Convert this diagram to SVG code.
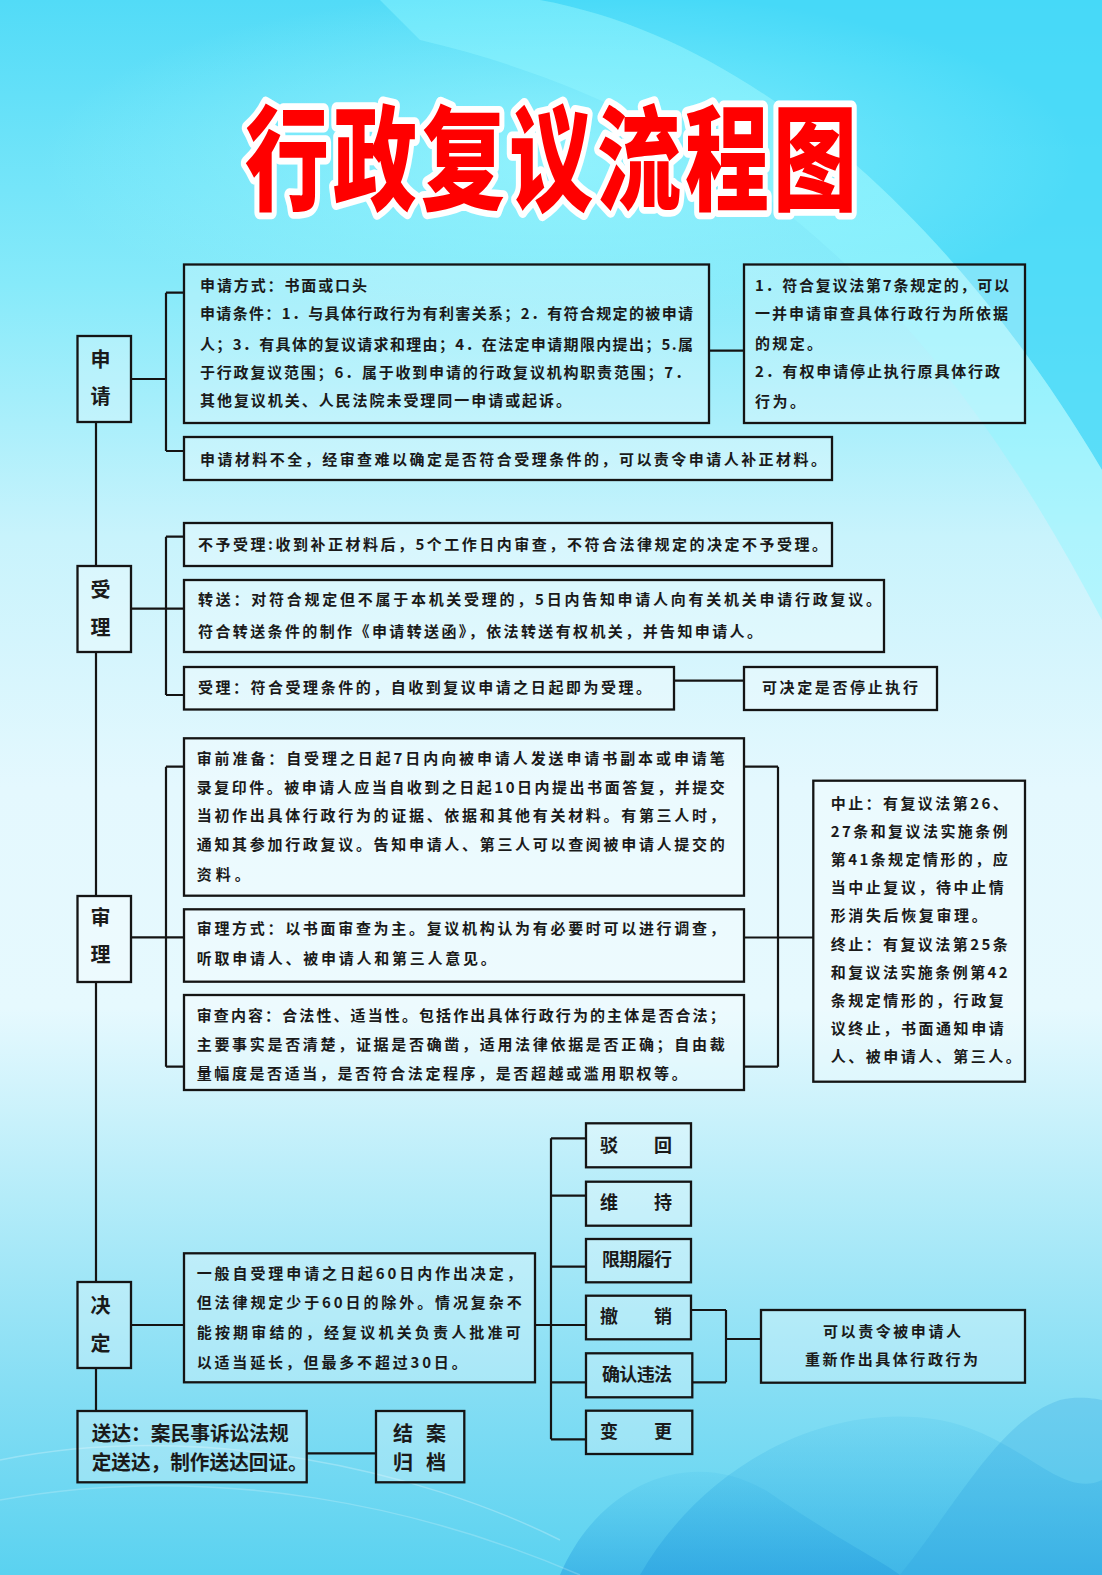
<svg xmlns="http://www.w3.org/2000/svg" width="1102" height="1575" viewBox="0 0 1102 1575">
<defs>
<linearGradient id="bg" x1="0" y1="0" x2="0" y2="1">
<stop offset="0" stop-color="#52dbf7"/>
<stop offset="0.18" stop-color="#86eafa"/>
<stop offset="0.34" stop-color="#c8f3fc"/>
<stop offset="0.5" stop-color="#e4f8fe"/>
<stop offset="0.64" stop-color="#e6f9fe"/>
<stop offset="0.76" stop-color="#b4ecf9"/>
<stop offset="0.88" stop-color="#86def4"/>
<stop offset="1" stop-color="#5ad2f0"/>
</linearGradient>
<radialGradient id="glow" cx="0.5" cy="0.5" r="0.5">
<stop offset="0" stop-color="#9ff8ff" stop-opacity="0.7"/>
<stop offset="1" stop-color="#9ff8ff" stop-opacity="0"/>
</radialGradient>
<linearGradient id="swirl" x1="0" y1="0" x2="0" y2="1">
<stop offset="0" stop-color="#3ab8e8" stop-opacity="0.15"/>
<stop offset="1" stop-color="#2aa0e0" stop-opacity="0.55"/>
</linearGradient>
<style>
.box{fill:#ffffff;fill-opacity:0.28;stroke:#141414;stroke-width:2.3}
.ln{stroke:#141414;stroke-width:2.2;fill:none}
.t{font-family:"Noto Sans CJK SC","Noto Sans",sans-serif;font-size:15px;font-weight:600;fill:#1a1a1a}
.lb{font-family:"Noto Sans CJK SC","Noto Sans",sans-serif;font-size:20px;font-weight:600;fill:#1a1a1a;text-anchor:middle}
.o{font-family:"Noto Sans CJK SC","Noto Sans",sans-serif;font-size:18px;font-weight:700;fill:#1a1a1a}
.big{font-family:"Noto Sans CJK SC","Noto Sans",sans-serif;font-size:20px;font-weight:700;fill:#1a1a1a}
.title{font-family:"Noto Sans CJK SC","Noto Sans",sans-serif;font-size:84px;font-weight:900;fill:#ff0000;stroke:#ffffff;stroke-width:10;stroke-linejoin:round;paint-order:stroke}
</style>
</defs>

<rect x="0" y="0" width="1102" height="1575" fill="url(#bg)"/>
<path d="M540,0 C760,40 960,230 1102,470 L1102,0 Z" fill="#44d8f8" opacity="0.8"/>
<path d="M540,0 C760,40 960,230 1102,470 L1102,620 C950,330 760,120 420,40 L380,0 Z" fill="#8ef6ff" opacity="0.45"/>
<ellipse cx="560" cy="160" rx="520" ry="170" fill="url(#glow)"/>
<path d="M560,1575 C600,1480 700,1440 780,1500 C840,1540 880,1560 900,1575 Z" fill="url(#swirl)"/>
<path d="M640,1575 C700,1470 820,1400 940,1420 C1020,1435 1060,1500 1102,1480 L1102,1575 Z" fill="url(#swirl)"/>
<path d="M900,1575 C960,1500 1000,1420 1060,1400 C1080,1395 1102,1400 1102,1400 L1102,1575 Z" fill="#2aa0e0" opacity="0.25"/>
<path d="M0,1460 C200,1420 420,1470 560,1540" stroke="#ffffff" stroke-opacity="0.25" stroke-width="1.5" fill="none"/>
<path d="M0,1500 C220,1460 430,1510 580,1575" stroke="#ffffff" stroke-opacity="0.2" stroke-width="1.5" fill="none"/>

<g id="title">
<text class="title" x="245" y="148.9" transform="scale(1,1.35)" textLength="612" lengthAdjust="spacing">行政复议流程图</text>
</g>

<g id="connectors">
<path class="ln" d="M96,422 V566 M96,652 V896 M96,982 V1282 M96,1368 V1411"/>
<path class="ln" d="M131,379 H166 M166,292.7 V451 M166,292.7 H184 M166,451 H184 M709,350.7 H744"/>
<path class="ln" d="M131,608.7 H184 M166,536.7 V695 M166,536.7 H184 M166,695 H184 M674,680.7 H744"/>
<path class="ln" d="M131,937.3 H184 M166,766.7 V1066.7 M166,766.7 H184 M166,1066.7 H184"/>
<path class="ln" d="M744,766.7 H778 M744,1066.7 H778 M778,766.7 V1066.7 M744,937.5 H813"/>
<path class="ln" d="M131,1325 H184 M535,1325 H586 M551,1138.3 V1439.3 M551,1138.3 H586 M551,1195.7 H586 M551,1266.7 H586 M551,1382.3 H586 M551,1439.3 H586"/>
<path class="ln" d="M691,1310 H726 M692,1382.3 H726 M726,1310 V1382.3 M726,1339 H761"/>
<path class="ln" d="M306.7,1453.3 H376"/>
</g>

<g id="stage-apply">
<rect class="box" x="77.5" y="336" width="53.5" height="86"/>
<text class="lb" x="100.5" y="367">申</text>
<text class="lb" x="100.5" y="404">请</text>
</g>

<g id="apply-main">
<rect class="box" x="184" y="264.5" width="525" height="158.5"/>
<text class="t" x="200" y="291" textLength="167" lengthAdjust="spacing">申请方式：书面或口头</text>
<text class="t" x="200" y="319.3" textLength="493" lengthAdjust="spacing">申请条件：1．与具体行政行为有利害关系；2．有符合规定的被申请</text>
<text class="t" x="200" y="349.6" textLength="493" lengthAdjust="spacing">人；3．有具体的复议请求和理由；4．在法定申请期限内提出；5.属</text>
<text class="t" x="200" y="377.6" textLength="490" lengthAdjust="spacing">于行政复议范围；6．属于收到申请的行政复议机构职责范围；7．</text>
<text class="t" x="200" y="406" textLength="371" lengthAdjust="spacing">其他复议机关、人民法院未受理同一申请或起诉。</text>
</g>

<g id="apply-right">
<rect class="box" x="744" y="264.5" width="281" height="158.5"/>
<text class="t" x="755" y="291" textLength="254" lengthAdjust="spacing">1．符合复议法第7条规定的，可以</text>
<text class="t" x="755" y="319.3" textLength="253" lengthAdjust="spacing">一并申请审查具体行政行为所依据</text>
<text class="t" x="755" y="348.6" textLength="67" lengthAdjust="spacing">的规定。</text>
<text class="t" x="755" y="377" textLength="245" lengthAdjust="spacing">2．有权申请停止执行原具体行政</text>
<text class="t" x="755" y="407" textLength="50" lengthAdjust="spacing">行为。</text>
</g>

<g id="apply-incomplete">
<rect class="box" x="184" y="437" width="648" height="43"/>
<text class="t" x="200" y="464.6" textLength="626" lengthAdjust="spacing">申请材料不全，经审查难以确定是否符合受理条件的，可以责令申请人补正材料。</text>
</g>

<g id="stage-accept">
<rect class="box" x="77.5" y="566" width="53.5" height="86"/>
<text class="lb" x="100.5" y="597">受</text>
<text class="lb" x="100.5" y="635">理</text>
</g>

<g id="accept-reject">
<rect class="box" x="184" y="523" width="648" height="43"/>
<text class="t" x="198" y="550.3" textLength="629" lengthAdjust="spacing">不予受理:收到补正材料后，5个工作日内审查，不符合法律规定的决定不予受理。</text>
</g>

<g id="accept-transfer">
<rect class="box" x="184" y="580" width="700" height="72"/>
<text class="t" x="198" y="605.3" textLength="683" lengthAdjust="spacing">转送：对符合规定但不属于本机关受理的，5日内告知申请人向有关机关申请行政复议。</text>
<text class="t" x="198" y="637" textLength="564" lengthAdjust="spacing">符合转送条件的制作《申请转送函》，依法转送有权机关，并告知申请人。</text>
</g>

<g id="accept-accept">
<rect class="box" x="184" y="667" width="490" height="42.5"/>
<text class="t" x="198" y="693.3" textLength="453" lengthAdjust="spacing">受理：符合受理条件的，自收到复议申请之日起即为受理。</text>
</g>

<g id="accept-suspend">
<rect class="box" x="744" y="667" width="193" height="43"/>
<text class="t" x="762" y="693.3" textLength="156" lengthAdjust="spacing">可决定是否停止执行</text>
</g>

<g id="stage-review">
<rect class="box" x="77.5" y="896" width="53.5" height="86"/>
<text class="lb" x="100.5" y="925">审</text>
<text class="lb" x="100.5" y="962">理</text>
</g>

<g id="review-prep">
<rect class="box" x="184" y="738.3" width="560" height="157.4"/>
<text class="t" x="196.7" y="763.6" textLength="528" lengthAdjust="spacing">审前准备：自受理之日起7日内向被申请人发送申请书副本或申请笔</text>
<text class="t" x="196.7" y="792.6" textLength="528" lengthAdjust="spacing">录复印件。被申请人应当自收到之日起10日内提出书面答复，并提交</text>
<text class="t" x="196.7" y="821" textLength="528" lengthAdjust="spacing">当初作出具体行政行为的证据、依据和其他有关材料。有第三人时，</text>
<text class="t" x="196.7" y="850.3" textLength="528" lengthAdjust="spacing">通知其参加行政复议。告知申请人、第三人可以查阅被申请人提交的</text>
<text class="t" x="196.7" y="880.3" textLength="53" lengthAdjust="spacing">资料。</text>
</g>

<g id="review-mode">
<rect class="box" x="184" y="909.3" width="560" height="72.4"/>
<text class="t" x="196.7" y="934.3" textLength="528" lengthAdjust="spacing">审理方式：以书面审查为主。复议机构认为有必要时可以进行调查，</text>
<text class="t" x="196.7" y="964.3" textLength="299" lengthAdjust="spacing">听取申请人、被申请人和第三人意见。</text>
</g>

<g id="review-content">
<rect class="box" x="184" y="995" width="560" height="95"/>
<text class="t" x="196.7" y="1021" textLength="528" lengthAdjust="spacing">审查内容：合法性、适当性。包括作出具体行政行为的主体是否合法；</text>
<text class="t" x="196.7" y="1050.3" textLength="528" lengthAdjust="spacing">主要事实是否清楚，证据是否确凿，适用法律依据是否正确；自由裁</text>
<text class="t" x="196.7" y="1079.3" textLength="490" lengthAdjust="spacing">量幅度是否适当，是否符合法定程序，是否超越或滥用职权等。</text>
</g>

<g id="review-stop">
<rect class="box" x="813.3" y="780.7" width="211.7" height="301"/>
<text class="t" x="830.7" y="808.6" textLength="177" lengthAdjust="spacing">中止：有复议法第26、</text>
<text class="t" x="830.7" y="836.8" textLength="177" lengthAdjust="spacing">27条和复议法实施条例</text>
<text class="t" x="830.7" y="865" textLength="177" lengthAdjust="spacing">第41条规定情形的，应</text>
<text class="t" x="830.7" y="893.2" textLength="173" lengthAdjust="spacing">当中止复议，待中止情</text>
<text class="t" x="830.7" y="921.4" textLength="156" lengthAdjust="spacing">形消失后恢复审理。</text>
<text class="t" x="830.7" y="949.6" textLength="177" lengthAdjust="spacing">终止：有复议法第25条</text>
<text class="t" x="830.7" y="977.8" textLength="177" lengthAdjust="spacing">和复议法实施条例第42</text>
<text class="t" x="830.7" y="1006" textLength="173" lengthAdjust="spacing">条规定情形的，行政复</text>
<text class="t" x="830.7" y="1034.2" textLength="173" lengthAdjust="spacing">议终止，书面通知申请</text>
<text class="t" x="830.7" y="1062.4" textLength="190" lengthAdjust="spacing">人、被申请人、第三人。</text>
</g>

<g id="stage-decide">
<rect class="box" x="77.5" y="1282" width="53.5" height="86"/>
<text class="lb" x="100.5" y="1313">决</text>
<text class="lb" x="100.5" y="1350.5">定</text>
</g>

<g id="decide-main">
<rect class="box" x="184" y="1253.3" width="351" height="129"/>
<text class="t" x="196.7" y="1278.6" textLength="325" lengthAdjust="spacing">一般自受理申请之日起60日内作出决定，</text>
<text class="t" x="196.7" y="1307.6" textLength="325" lengthAdjust="spacing">但法律规定少于60日的除外。情况复杂不</text>
<text class="t" x="196.7" y="1337.6" textLength="324" lengthAdjust="spacing">能按期审结的，经复议机关负责人批准可</text>
<text class="t" x="196.7" y="1367.6" textLength="270" lengthAdjust="spacing">以适当延长，但最多不超过30日。</text>
</g>

<g id="out-reject">
<rect class="box" x="586" y="1123.3" width="105" height="44"/>
<text class="o" x="600" y="1151.5" textLength="72" lengthAdjust="spacing">驳 回</text>
</g>
<g id="out-uphold">
<rect class="box" x="586" y="1181.7" width="105" height="44"/>
<text class="o" x="600" y="1209.2" textLength="72" lengthAdjust="spacing">维 持</text>
</g>
<g id="out-deadline">
<rect class="box" x="586" y="1239" width="105" height="43.3"/>
<text class="o" x="602" y="1265.5" textLength="70" lengthAdjust="spacing">限期履行</text>
</g>
<g id="out-revoke">
<rect class="box" x="586" y="1295.7" width="105" height="43.6"/>
<text class="o" x="600" y="1323.2" textLength="72" lengthAdjust="spacing">撤 销</text>
</g>
<g id="out-illegal">
<rect class="box" x="586" y="1353.3" width="106.3" height="44"/>
<text class="o" x="602" y="1380.8" textLength="70" lengthAdjust="spacing">确认违法</text>
</g>
<g id="out-change">
<rect class="box" x="586" y="1410.7" width="106.3" height="43.3"/>
<text class="o" x="600" y="1438.2" textLength="72" lengthAdjust="spacing">变 更</text>
</g>

<g id="out-redo">
<rect class="box" x="761" y="1310" width="264" height="72.7"/>
<text class="t" x="823" y="1337" textLength="138" lengthAdjust="spacing">可以责令被申请人</text>
<text class="t" x="805" y="1365.3" textLength="173" lengthAdjust="spacing">重新作出具体行政行为</text>
</g>

<g id="deliver">
<rect class="box" x="77.5" y="1411" width="229.2" height="71.3"/>
<text class="big" x="91.7" y="1440.5" textLength="197" lengthAdjust="spacingAndGlyphs">送达：案民事诉讼法规</text>
<text class="big" x="91.7" y="1469.5" textLength="216" lengthAdjust="spacingAndGlyphs">定送达，制作送达回证。</text>
</g>

<g id="archive">
<rect class="box" x="376" y="1411" width="88.3" height="71.3"/>
<text class="big" x="393" y="1440.5" textLength="53" lengthAdjust="spacing">结 案</text>
<text class="big" x="393" y="1469.5" textLength="53" lengthAdjust="spacing">归 档</text>
</g>
</svg>
